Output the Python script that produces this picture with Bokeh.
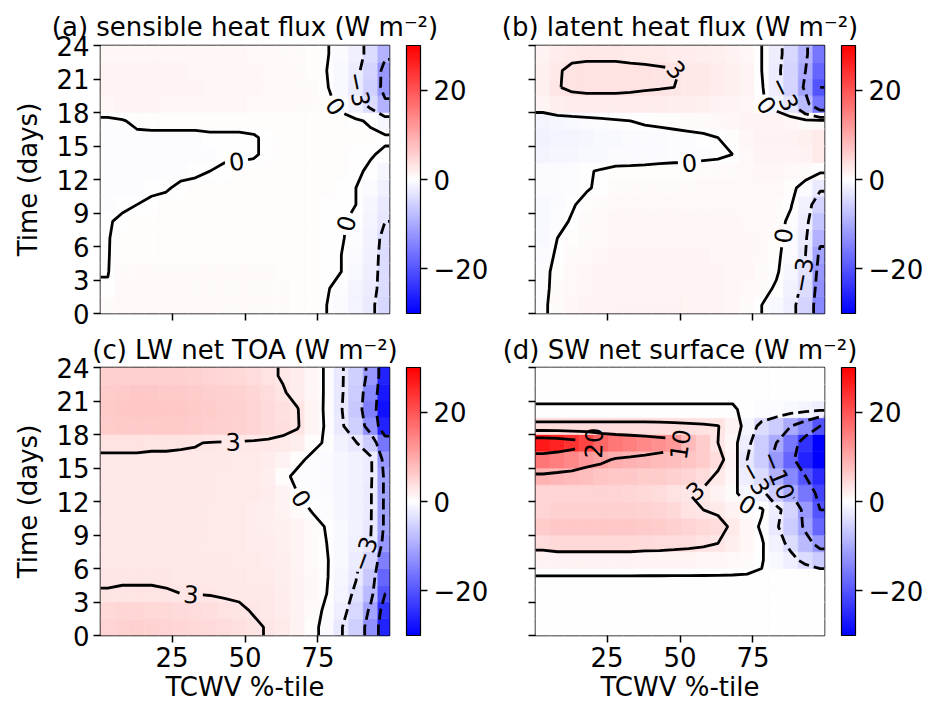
import numpy as np
import contourpy
from bokeh.plotting import figure
from bokeh.layouts import row, column
from bokeh.models import LinearColorMapper, FixedTicker, ColumnDataSource, ColorBar
from bokeh.transform import transform
from bokeh.embed import file_html
from bokeh.resources import INLINE
from bokeh.core.properties import value

# ---------------- data ----------------
pct = [3, 8, 13, 18, 23, 28, 33, 38, 43, 48, 53, 58, 63, 68, 73, 78, 83, 88, 93, 98]   # TCWV percentile bin centres
days = [0.75, 2.25, 3.75, 5.25, 6.75, 8.25, 9.75, 11.25, 12.75, 14.25,
        15.75, 17.25, 18.75, 20.25, 21.75, 23.25]                                      # time bin centres
x_ticks = [25, 50, 75]
y_ticks = [0, 3, 6, 9, 12, 15, 18, 21, 24]
cbar_ticks = [-20, 0, 20]
levels_neg = [-20, -10, -3]
levels_pos = [0, 3, 10, 20]
titles = ["(a) sensible heat flux (W m\u207b\u00b2)", "(b) latent heat flux (W m\u207b\u00b2)",
          "(c) LW net TOA (W m\u207b\u00b2)", "(d) SW net surface (W m\u207b\u00b2)"]

# rows listed from the top (day 23.25) down to the bottom (day 0.75)
sensible = [
    [1.0, 1.0, 1.0, 1.0, 1.0, 1.0, 1.0, 1.0, 1.0, 1.0, 0.8, 0.8, 0.7, 0.6, 0.4, 0.1, -0.6, -1.8, -4.0, -9.0],
    [1.2, 1.3, 1.3, 1.2, 1.2, 1.2, 1.1, 1.1, 1.1, 1.0, 1.0, 0.9, 0.8, 0.6, 0.4, 0.0, -0.8, -2.2, -5.0, -12.0],
    [1.2, 1.3, 1.3, 1.3, 1.2, 1.2, 1.2, 1.1, 1.1, 1.0, 1.0, 0.9, 0.8, 0.7, 0.5, 0.1, -0.8, -2.5, -5.5, -12.0],
    [1.1, 1.2, 1.2, 1.2, 1.1, 1.1, 1.1, 1.0, 1.0, 1.0, 0.9, 0.8, 0.8, 0.7, 0.5, 0.3, -0.3, -1.5, -4.0, -9.0],
    [-0.3, -0.1, 0.3, 0.4, 0.4, 0.4, 0.4, 0.4, 0.4, 0.4, 0.4, 0.3, 0.3, 0.3, 0.3, 0.3, 0.3, 0.2, -0.2, -1.0],
    [-0.3, -0.3, -0.3, -0.3, -0.3, -0.3, -0.3, -0.2, -0.2, -0.2, -0.1, 0.2, 0.3, 0.3, 0.3, 0.3, 0.3, 0.3, 0.3, 0.2],
    [-0.4, -0.4, -0.4, -0.4, -0.3, -0.3, -0.3, -0.3, -0.2, -0.2, -0.1, 0.2, 0.3, 0.3, 0.3, 0.3, 0.3, 0.2, 0.1, -0.2],
    [-0.4, -0.4, -0.4, -0.3, -0.3, -0.3, -0.2, 0.0, 0.2, 0.3, 0.3, 0.3, 0.3, 0.3, 0.3, 0.3, 0.3, 0.2, -0.2, -1.0],
    [-0.4, -0.4, -0.3, -0.2, -0.1, 0.2, 0.3, 0.3, 0.3, 0.3, 0.3, 0.3, 0.3, 0.3, 0.3, 0.3, 0.2, 0.0, -0.6, -1.8],
    [-0.3, -0.2, 0.0, 0.2, 0.3, 0.3, 0.3, 0.3, 0.3, 0.3, 0.3, 0.3, 0.3, 0.3, 0.3, 0.2, 0.1, 0.0, -1.0, -2.5],
    [-0.1, 0.2, 0.3, 0.3, 0.3, 0.3, 0.3, 0.3, 0.3, 0.3, 0.3, 0.3, 0.3, 0.3, 0.3, 0.2, 0.1, -0.2, -1.2, -3.0],
    [-0.05, 0.3, 0.3, 0.3, 0.3, 0.3, 0.3, 0.3, 0.3, 0.3, 0.3, 0.3, 0.3, 0.3, 0.3, 0.2, 0.1, -0.4, -1.6, -3.8],
    [-0.05, 0.4, 0.4, 0.4, 0.4, 0.4, 0.4, 0.4, 0.4, 0.4, 0.3, 0.3, 0.3, 0.3, 0.3, 0.2, 0.0, -0.6, -1.8, -4.0],
    [-0.05, 0.7, 0.7, 0.7, 0.7, 0.7, 0.7, 0.6, 0.6, 0.6, 0.5, 0.5, 0.4, 0.4, 0.3, 0.2, 0.0, -0.8, -2.0, -4.0],
    [0.1, 0.8, 0.8, 0.8, 0.8, 0.8, 0.7, 0.7, 0.7, 0.6, 0.6, 0.5, 0.5, 0.4, 0.3, 0.1, -0.4, -1.2, -2.2, -4.0],
    [0.5, 0.9, 0.9, 0.9, 0.9, 0.9, 0.8, 0.8, 0.7, 0.7, 0.6, 0.6, 0.5, 0.4, 0.3, 0.0, -0.6, -1.4, -2.4, -4.5],
]

latent = [
    [1.5, 2.3, 2.5, 2.6, 2.6, 2.6, 2.5, 2.5, 2.4, 2.3, 2.2, 2.0, 1.8, 1.5, 1.0, 0.0, -2.0, -4.5, -9.0, -16.0],
    [1.8, 2.8, 3.4, 3.5, 3.5, 3.5, 3.4, 3.3, 3.2, 3.1, 2.8, 2.6, 2.3, 1.8, 1.2, 0.0, -2.2, -5.0, -10.0, -18.0],
    [1.8, 2.9, 3.3, 3.4, 3.4, 3.4, 3.3, 3.2, 3.1, 3.0, 2.8, 2.6, 2.3, 1.8, 1.2, 0.2, -2.0, -5.0, -11.0, -20.0],
    [1.2, 2.0, 2.2, 2.3, 2.3, 2.3, 2.3, 2.2, 2.2, 2.1, 2.0, 1.8, 1.6, 1.3, 1.0, 0.3, -1.0, -3.0, -8.0, -16.0],
    [-1.2, -1.0, -0.8, -0.6, -0.4, -0.2, 0.0, 0.2, 0.3, 0.4, 0.5, 0.6, 0.8, 1.0, 1.2, 1.4, 1.4, 1.0, 0.5, 0.5],
    [-1.5, -1.4, -1.2, -1.0, -0.9, -0.8, -0.7, -0.6, -0.5, -0.4, -0.3, -0.2, 0.0, 0.4, 1.0, 1.5, 1.6, 1.5, 1.8, 2.5],
    [-1.2, -1.1, -1.0, -0.9, -0.8, -0.7, -0.6, -0.5, -0.5, -0.4, -0.4, -0.3, -0.2, 0.0, 0.8, 1.3, 1.4, 1.3, 1.6, 2.5],
    [-0.6, -0.5, -0.3, -0.1, 0.1, 0.3, 0.3, 0.3, 0.4, 0.4, 0.4, 0.5, 0.5, 0.6, 0.8, 1.0, 1.0, 0.9, 0.6, 0.3],
    [-0.7, -0.5, -0.3, -0.1, 0.2, 0.5, 0.6, 0.7, 0.7, 0.7, 0.7, 0.8, 0.8, 0.8, 0.9, 0.9, 0.8, 0.3, -0.5, -2.5],
    [-0.8, -0.5, -0.1, 0.3, 0.6, 0.8, 0.9, 0.9, 0.9, 0.9, 0.9, 0.9, 0.9, 0.9, 0.9, 0.8, 0.6, 0.1, -1.5, -5.0],
    [-0.8, -0.3, 0.1, 0.5, 0.8, 1.0, 1.0, 1.0, 1.0, 1.0, 1.0, 1.0, 1.0, 1.0, 0.9, 0.8, 0.5, -0.3, -2.0, -7.0],
    [-0.8, 0.0, 0.3, 0.7, 0.9, 1.1, 1.1, 1.1, 1.1, 1.1, 1.1, 1.1, 1.1, 1.0, 1.0, 0.8, 0.4, -0.5, -2.5, -9.0],
    [-0.6, 0.2, 0.6, 0.9, 1.1, 1.2, 1.2, 1.2, 1.2, 1.2, 1.2, 1.2, 1.1, 1.1, 1.0, 0.8, 0.3, -0.7, -3.0, -11.0],
    [-0.4, 0.4, 0.8, 1.0, 1.2, 1.3, 1.3, 1.3, 1.3, 1.3, 1.3, 1.2, 1.2, 1.1, 1.0, 0.7, 0.2, -1.0, -3.5, -12.0],
    [-0.4, 0.5, 0.9, 1.1, 1.3, 1.4, 1.4, 1.4, 1.4, 1.4, 1.3, 1.3, 1.2, 1.1, 0.9, 0.5, -0.2, -1.5, -4.0, -13.0],
    [-0.3, 0.6, 1.0, 1.2, 1.4, 1.5, 1.5, 1.5, 1.5, 1.5, 1.4, 1.3, 1.2, 1.0, 0.7, 0.0, -0.8, -2.0, -5.0, -14.0],
]

lw_toa = [
    [5.5, 5.6, 5.6, 5.6, 5.6, 5.5, 5.3, 5.1, 4.9, 4.6, 4.2, 3.4, 2.8, 2.2, 1.0, -0.3, -2.6, -5.5, -12.0, -26.0],
    [6.0, 6.3, 6.4, 6.4, 6.3, 6.2, 6.0, 5.8, 5.5, 5.2, 4.8, 4.0, 3.2, 2.3, 1.0, -0.3, -2.6, -6.0, -14.0, -27.0],
    [6.2, 6.5, 6.6, 6.6, 6.5, 6.4, 6.2, 6.0, 5.7, 5.4, 5.0, 4.3, 3.6, 3.1, 1.2, -0.4, -2.8, -6.5, -15.0, -28.0],
    [6.0, 6.2, 6.3, 6.3, 6.2, 6.1, 6.0, 5.8, 5.6, 5.3, 5.0, 4.4, 3.8, 3.2, 1.2, -0.3, -2.5, -5.5, -13.0, -26.0],
    [3.3, 3.3, 3.3, 3.2, 3.2, 3.2, 3.1, 2.9, 2.8, 2.8, 2.7, 2.6, 2.4, 2.0, 0.4, -0.2, -1.5, -2.8, -6.0, -16.0],
    [2.8, 2.8, 2.8, 2.8, 2.8, 2.7, 2.7, 2.6, 2.6, 2.5, 2.4, 2.2, 1.6, 0.3, -0.3, -0.5, -1.0, -1.6, -2.2, -12.0],
    [2.7, 2.7, 2.7, 2.7, 2.7, 2.7, 2.6, 2.6, 2.5, 2.5, 2.4, 2.0, 0.3, -0.3, -0.4, -0.6, -1.0, -1.5, -2.2, -11.0],
    [2.7, 2.7, 2.7, 2.7, 2.7, 2.7, 2.6, 2.6, 2.5, 2.5, 2.4, 2.2, 1.5, 0.0, -0.3, -0.5, -1.0, -1.6, -2.5, -11.0],
    [2.7, 2.7, 2.7, 2.7, 2.7, 2.6, 2.6, 2.5, 2.5, 2.4, 2.3, 2.1, 1.5, 0.6, -0.1, -0.4, -1.0, -1.6, -2.5, -11.0],
    [2.7, 2.7, 2.7, 2.7, 2.6, 2.6, 2.6, 2.5, 2.5, 2.4, 2.3, 2.1, 1.7, 1.2, 0.5, -0.1, -0.8, -1.6, -2.6, -11.0],
    [2.6, 2.7, 2.7, 2.7, 2.6, 2.6, 2.6, 2.5, 2.5, 2.4, 2.3, 2.2, 1.8, 1.3, 0.6, 0.0, -0.8, -1.8, -3.0, -12.0],
    [2.8, 2.8, 2.8, 2.8, 2.7, 2.7, 2.7, 2.6, 2.6, 2.5, 2.4, 2.3, 1.9, 1.4, 0.7, 0.1, -0.8, -2.2, -5.0, -15.0],
    [2.9, 2.9, 2.9, 2.9, 2.9, 2.8, 2.8, 2.7, 2.7, 2.6, 2.5, 2.4, 2.0, 1.5, 0.8, 0.1, -1.0, -2.8, -6.5, -18.0],
    [3.05, 3.1, 3.1, 3.1, 3.05, 3.0, 2.95, 2.9, 2.8, 2.8, 2.7, 2.6, 2.2, 1.6, 0.8, 0.0, -1.4, -3.6, -8.0, -20.0],
    [4.5, 4.7, 4.7, 4.6, 4.5, 4.3, 4.0, 3.8, 3.5, 3.2, 2.9, 2.7, 2.3, 1.6, 0.6, -0.3, -2.0, -4.5, -11.0, -24.0],
    [5.0, 5.3, 5.4, 5.3, 5.1, 4.9, 4.6, 4.3, 4.0, 3.6, 3.2, 2.9, 2.4, 1.6, 0.4, -0.5, -2.8, -5.5, -13.0, -26.0],
]

sw_sfc = [
    [-0.1] * 20,
    [-0.1] * 20,
    [0.05, 0.05, 0.05, 0.05, 0.05, 0.05, 0.05, 0.05, 0.05, 0.05, 0.05, 0.05, 0.05, 0.05, -0.1, -0.3, -0.5, -0.8, -1.2, -2.0],
    [4.0, 4.0, 4.0, 4.0, 4.0, 4.0, 4.0, 4.0, 3.9, 3.8, 3.6, 3.4, 3.1, 1.5, -1.0, -4.0, -6.0, -10.0, -14.0, -20.0],
    [27.0, 26.0, 24.0, 22.0, 18.0, 16.0, 15.0, 14.0, 13.0, 12.0, 8.0, 6.0, 3.0, 1.0, -2.0, -6.0, -10.0, -16.0, -24.0, -30.0],
    [16.0, 15.0, 14.0, 12.0, 11.0, 9.5, 9.0, 8.5, 8.0, 7.5, 7.0, 6.0, 4.0, 1.5, -3.0, -6.0, -12.0, -18.0, -26.0, -30.0],
    [9.0, 8.5, 8.0, 7.5, 7.0, 6.5, 6.5, 6.0, 6.0, 5.5, 5.0, 4.0, 2.5, 1.0, -2.0, -4.0, -9.0, -14.0, -20.0, -25.0],
    [5.0, 5.0, 5.0, 5.0, 5.0, 5.0, 4.8, 4.5, 4.0, 3.5, 3.0, 2.5, 1.5, 0.5, -1.0, -2.0, -6.0, -10.0, -16.0, -22.0],
    [5.0, 5.5, 5.5, 5.5, 5.5, 5.5, 5.5, 5.2, 5.0, 4.5, 3.5, 3.0, 2.5, 1.5, 0.5, 0.2, -2.0, -5.0, -12.0, -20.0],
    [6.0, 6.5, 6.5, 6.5, 6.5, 6.5, 6.5, 6.3, 6.0, 5.5, 5.0, 4.5, 4.0, 2.5, 1.0, -0.3, -2.5, -6.0, -11.0, -18.0],
    [4.0, 4.5, 4.5, 4.5, 4.5, 4.5, 4.5, 4.3, 4.2, 4.0, 3.8, 3.5, 3.0, 2.0, 1.0, 0.2, -1.5, -4.0, -8.0, -12.0],
    [1.5, 1.5, 1.5, 1.5, 1.5, 1.5, 1.5, 1.4, 1.4, 1.3, 1.2, 1.1, 1.0, 0.8, 0.5, 0.1, -0.8, -2.0, -4.0, -6.0],
    [-0.1] * 20,
    [-0.1] * 20,
    [-0.1] * 20,
    [-0.1] * 20,
]

# ---------------- styling / layout constants ----------------
FONT = "DejaVu Sans"
FS = "26px"
FW, FH = 289, 268
X0, X1, Y0, Y1 = 0.5, 99.5, 0.0, 24.0
CELL_W, CELL_H = 5.0, 1.5
SX, SY = FW / (X1 - X0), FH / (Y1 - Y0)
LAB_FS = 24


def bwr_palette(n=256):
    out = []
    for i in range(n):
        t = i / (n - 1)
        if t < 0.5:
            r = g = 2 * t
            b = 1.0
        else:
            r = 1.0
            g = b = 2 * (1 - t)
        out.append("#%02x%02x%02x" % (int(round(r * 255)), int(round(g * 255)), int(round(b * 255))))
    return out


mapper = LinearColorMapper(palette=bwr_palette(), low=-30, high=30)


def fmt_level(lev):
    return ("%d" % lev).replace("-", "\u2212")


def split_label(path, text):
    X = (path[:, 0] - X0) * SX
    Y = (path[:, 1] - Y0) * SY
    s = np.concatenate([[0.0], np.cumsum(np.hypot(np.diff(X), np.diff(Y)))])
    L = s[-1]
    if L < 80 or len(path) < 3:
        return [path], None
    half = len(text) * 0.32 * LAB_FS + 4

    def ip(t):
        return np.array([np.interp(t, s, path[:, 0]), np.interp(t, s, path[:, 1])])

    for frac in (0.5, 0.4, 0.6, 0.3, 0.7, 0.2, 0.8):
        m = L * frac
        pc = ip(m)
        cx, cy = (pc[0] - X0) * SX, (pc[1] - Y0) * SY
        if half + 3 < cx < FW - half - 3 and half + 3 < cy < FH - half - 3:
            break
    else:
        return [path], None
    a, b = m - half, m + half
    pa, pb = ip(a), ip(b)
    p1 = np.vstack([path[s < a], pa])
    p2 = np.vstack([pb, path[s > b]])
    ang = np.arctan2((pb[1] - pa[1]) * SY, (pb[0] - pa[0]) * SX)
    if ang > np.pi / 2:
        ang -= np.pi
    if ang < -np.pi / 2:
        ang += np.pi
    return [p1, p2], (pc[0], pc[1], text, ang)


def style_axis(ax, ticks, show_labels):
    ax.ticker = FixedTicker(ticks=ticks)
    if not show_labels:
        ax.major_label_overrides = {t: "" for t in ticks}
    ax.major_label_text_font = FONT
    ax.major_label_text_font_size = FS
    ax.major_label_text_color = "black"
    ax.major_tick_line_color = "black"
    ax.major_tick_line_width = 1.5
    ax.major_tick_out = 7
    ax.major_tick_in = 0
    ax.minor_tick_line_color = None
    ax.axis_line_color = None
    ax.major_label_standoff = 4
    ax.axis_label_text_font = FONT
    ax.axis_label_text_font_size = FS
    ax.axis_label_text_font_style = "normal"
    ax.axis_label_text_color = "black"


def panel(rows, title, show_x, show_y, top, bottom, left, title_standoff):
    z = np.array(rows, dtype=float)[::-1]
    p = figure(frame_width=FW, frame_height=FH, x_range=(X0, X1), y_range=(Y0, Y1),
               output_backend="svg", toolbar_location=None,
               min_border_left=left, min_border_right=100, min_border_top=top, min_border_bottom=bottom)
    p.grid.visible = False
    p.outline_line_color = "black"
    p.outline_line_width = 1.5
    p.background_fill_color = "white"
    p.border_fill_color = "white"

    p.title.text = title
    p.title.align = "center"
    p.title.text_font = FONT
    p.title.text_font_size = FS
    p.title.text_font_style = "normal"
    p.title.text_color = "black"
    p.title.standoff = title_standoff

    xx, yy = np.meshgrid(pct, days)
    src = ColumnDataSource(dict(x=xx.ravel(), y=yy.ravel(), z=z.ravel()))
    p.rect("x", "y", width=CELL_W, height=CELL_H, source=src,
           fill_color=transform("z", mapper), line_color=transform("z", mapper), line_width=0.6)

    # contours (edge-replicated so the lines reach the frame)
    xp = np.concatenate([[X0], pct, [X1]])
    yp = np.concatenate([[Y0], days, [Y1]])
    zp = np.pad(z, 1, mode="edge")
    gen = contourpy.contour_generator(xp, yp, zp)
    labels = []
    for levs, dash in ((levels_pos, "solid"), (levels_neg, "11 5")):
        xs, ys = [], []
        for lev in levs:
            for path in gen.lines(lev):
                if len(path) < 2:
                    continue
                pieces, lab = split_label(np.asarray(path), fmt_level(lev))
                for pc in pieces:
                    if len(pc) >= 2:
                        xs.append(list(pc[:, 0]))
                        ys.append(list(pc[:, 1]))
                if lab is not None:
                    labels.append(lab)
        if xs:
            p.multi_line(xs, ys, line_color="black", line_width=2.8, line_dash=dash)
    if labels:
        p.text(x=[l[0] for l in labels], y=[l[1] for l in labels], text=[l[2] for l in labels],
               angle=[l[3] for l in labels], text_align="center", text_baseline="middle",
               text_font=value(FONT), text_font_size=value("%dpx" % LAB_FS), text_color="black")

    style_axis(p.xaxis[0], x_ticks, show_x)
    style_axis(p.yaxis[0], y_ticks, show_y)
    if show_x:
        p.xaxis.axis_label = "TCWV %-tile"
        p.xaxis.axis_label_standoff = 2
    if show_y:
        p.yaxis.axis_label = "Time (days)"
        p.yaxis.axis_label_standoff = 10

    cb = ColorBar(color_mapper=mapper, width=14, height=FH, location=(17, 0), padding=0, margin=0,
                  ticker=FixedTicker(ticks=cbar_ticks),
                  major_label_overrides={t: ("%d" % t).replace("-", "\u2212") for t in cbar_ticks},
                  major_label_text_font=FONT, major_label_text_font_size=FS,
                  major_label_text_color="black", label_standoff=6,
                  major_tick_line_color="black", major_tick_line_width=1.5,
                  major_tick_out=7, major_tick_in=0, minor_tick_line_color=None,
                  bar_line_color="black", bar_line_width=1.2,
                  background_fill_color=None, border_line_color=None)
    p.add_layout(cb, "right")
    return p


pa = panel(sensible, titles[0], False, True, 45, 17, 100, 8)
pb = panel(latent, titles[1], False, False, 45, 17, 44, 8)
pc = panel(lw_toa, titles[2], True, True, 33, 78, 100, 5)
pd = panel(sw_sfc, titles[3], True, False, 33, 78, 44, 5)

layout = column(row(pa, pb), row(pc, pd))

open("out.html", "w").write(file_html(layout, INLINE))
